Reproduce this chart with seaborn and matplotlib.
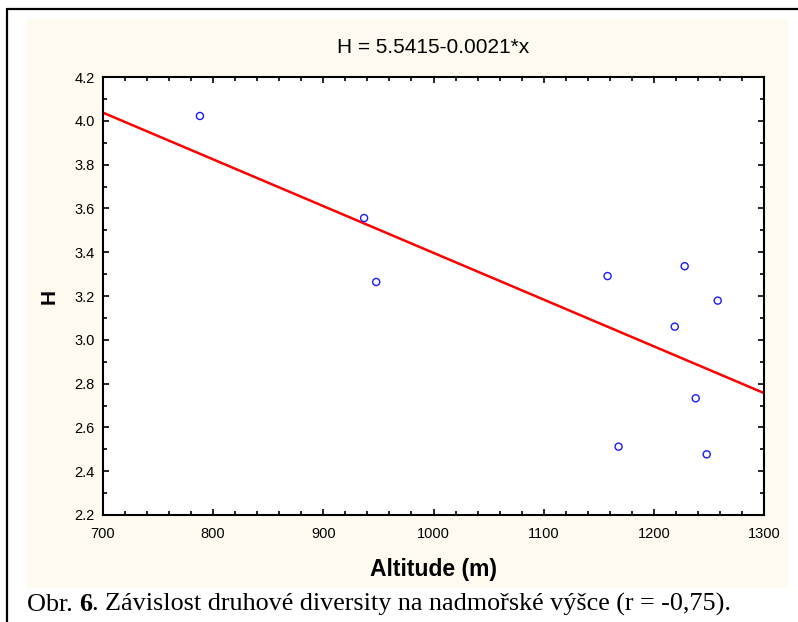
import numpy as np
import pandas as pd
import seaborn as sns
import matplotlib.pyplot as plt
from matplotlib.patches import Rectangle
from matplotlib.lines import Line2D
from matplotlib.ticker import MultipleLocator

# Data
altitude = [788, 937, 948, 1158, 1228, 1258, 1219, 1238, 1168, 1248]
diversity_h = [4.022, 3.556, 3.264, 3.291, 3.336, 3.179, 3.060, 2.733, 2.512, 2.477]
title_text = "H = 5.5415-0.0021*x"
x_label = "Altitude (m)"
y_label = "H"
caption_parts = ["Obr. ", "6", ". Závislost druhové diversity na nadmořské výšce (r = -0,75)."]

df = pd.DataFrame({"Altitude": altitude, "H": diversity_h})

sns.set_style("ticks")
plt.rcParams['font.family'] = ['Liberation Sans', 'DejaVu Sans']
plt.rcParams['text.color'] = 'black'
plt.rcParams['axes.labelcolor'] = 'black'
plt.rcParams['xtick.color'] = 'black'
plt.rcParams['ytick.color'] = 'black'

fig = plt.figure(figsize=(7.98, 6.22), dpi=100)
fig.patch.set_facecolor("white")

# cream panel and outer frame (kept behind the axes)
fig.patches.append(Rectangle((27 / 798, 1 - 588 / 622), (788 - 27) / 798, (588 - 19) / 622,
                             transform=fig.transFigure, facecolor="#FEFAF0", edgecolor="none", zorder=-5))
fig.lines.append(Line2D([7 / 798, 7 / 798], [0, 1 - 9 / 622], transform=fig.transFigure, color="black", lw=1.6))
fig.lines.append(Line2D([7 / 798, 1], [1 - 9 / 622, 1 - 9 / 622], transform=fig.transFigure, color="black", lw=1.6))

ax = fig.add_axes([103 / 798, 1 - 515 / 622, (764 - 103) / 798, (515 - 77) / 622])
ax.set_zorder(2)
ax.set_facecolor("white")
ax.set_xlim(700, 1300)
ax.set_ylim(2.2, 4.2)

sns.regplot(data=df, x="Altitude", y="H", ax=ax, scatter=False, ci=None, truncate=False,
            line_kws={"color": "#FF0000", "lw": 1.8})
sns.scatterplot(data=df, x="Altitude", y="H", ax=ax, marker="o", s=26,
                facecolors="none", edgecolor="#1a1aff", linewidth=1.0, zorder=3)
ax.set_xlim(700, 1300)
ax.set_ylim(2.2, 4.2)

ax.xaxis.set_major_locator(MultipleLocator(100))
ax.xaxis.set_minor_locator(MultipleLocator(20))
ax.yaxis.set_major_locator(MultipleLocator(0.2))
ax.yaxis.set_minor_locator(MultipleLocator(0.1))
ax.yaxis.set_major_formatter(plt.FormatStrFormatter("%.1f"))
ax.tick_params(which="both", direction="in", top=True, right=True, color="black", width=1.2)
ax.tick_params(which="major", length=4, labelsize=10.5, pad=6)
ax.tick_params(axis="x", which="major", pad=9)
ax.tick_params(which="minor", length=3)
for sp in ax.spines.values():
    sp.set_visible(True)
    sp.set_color("black")
    sp.set_linewidth(1.5)

ax.set_title(title_text, fontsize=15, pad=17)
ax.set_xlabel(x_label, fontsize=16.5, fontweight="bold", labelpad=12)
ax.set_ylabel(y_label, fontsize=15, fontweight="bold", labelpad=11)

# caption with a bold figure number
renderer = fig.canvas.get_renderer()
x0 = 27 / 798
y0 = 1 - 611 / 622
for i, part in enumerate(caption_parts):
    t = fig.text(x0, y0, part, fontsize=18.8, family=['Liberation Serif', 'DejaVu Serif'],
                 fontweight="bold" if i == 1 else "normal", va="baseline", ha="left")
    bb = t.get_window_extent(renderer)
    x0 += bb.width / fig.bbox.width

fig.savefig("out.png", dpi=100)
